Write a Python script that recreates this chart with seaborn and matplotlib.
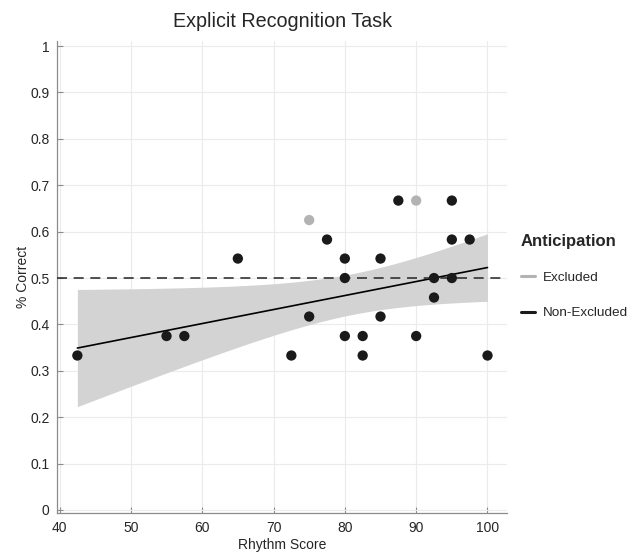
import matplotlib

matplotlib.use("Agg")
import matplotlib.pyplot as plt
import numpy as np
import pandas as pd
import seaborn as sns
from matplotlib.lines import Line2D

# values
groups = ["Excluded", "Non-Excluded"]
excluded_rhythm = [75, 90]
excluded_correct = [0.625, 0.667]
kept_rhythm = [42.5, 55, 57.5, 65, 72.5, 75, 77.5, 80, 80, 80, 82.5, 82.5,
               85, 85, 87.5, 90, 92.5, 92.5, 95, 95, 95, 97.5, 100]
kept_correct = [0.333, 0.375, 0.375, 0.542, 0.333, 0.417, 0.583, 0.542, 0.5, 0.375, 0.375, 0.333,
                0.542, 0.417, 0.667, 0.375, 0.5, 0.458, 0.667, 0.583, 0.5, 0.583, 0.333]
x_ticks = [40, 50, 60, 70, 80, 90, 100]
y_ticks = [0, 0.1, 0.2, 0.3, 0.4, 0.5, 0.6, 0.7, 0.8, 0.9, 1]
chance = 0.5

df = pd.DataFrame({
    "rhythm": excluded_rhythm + kept_rhythm,
    "correct": excluded_correct + kept_correct,
    "group": [groups[0]] * len(excluded_rhythm) + [groups[1]] * len(kept_rhythm),
})
palette = {"Excluded": "#b3b3b3", "Non-Excluded": "#1a1a1a"}
text_col = "#262626"
axis_col = "#8c8c8c"

# analytic 95% confidence band of the linear fit (non-excluded only)
xk = np.array(kept_rhythm)
yk = np.array(kept_correct)
n = len(xk)
slope, intercept = np.polyfit(xk, yk, 1)
resid = yk - (slope * xk + intercept)
s_err = np.sqrt(np.sum(resid ** 2) / (n - 2))
sxx = np.sum((xk - xk.mean()) ** 2)
t_crit = 2.080  # t(0.975, df=21)
grid_x = np.linspace(xk.min(), xk.max(), 200)
half = t_crit * s_err * np.sqrt(1 / n + (grid_x - xk.mean()) ** 2 / sxx)
fit_y = slope * grid_x + intercept

sns.set_theme(style="white")
plt.rcParams["font.family"] = ["Liberation Sans", "DejaVu Sans"]

fig = plt.figure(figsize=(6.44, 5.54), dpi=100)
ax = fig.add_axes([0.088, 0.074, 0.700, 0.852])

ax.grid(True, color="#ebebeb", linewidth=0.8)
ax.set_axisbelow(True)

ax.fill_between(grid_x, fit_y - half, fit_y + half, color="#d3d3d3", linewidth=0, zorder=1)
sns.regplot(data=df[df["group"] == "Non-Excluded"], x="rhythm", y="correct", ax=ax,
            scatter=False, ci=None, color="black", line_kws={"linewidth": 1.2, "zorder": 2})

ax.axhline(chance, color="#333333", linestyle=(0, (6, 4)), linewidth=1.2, zorder=3)

sns.scatterplot(data=df, x="rhythm", y="correct", hue="group", palette=palette,
                s=55, edgecolor="none", legend=False, ax=ax, zorder=4)

ax.set_xlim(39.6, 102.8)
ax.set_ylim(-0.0065, 1.011)
ax.set_xticks(x_ticks)
ax.set_yticks(y_ticks)
ax.set_yticklabels([f"{v:g}" for v in y_ticks])
ax.tick_params(direction="in", length=4, width=0.8, color=axis_col, labelsize=10,
               labelcolor=text_col, bottom=True, left=True)
ax.tick_params(axis="x", pad=6)
ax.tick_params(axis="y", pad=5)
for side in ["top", "right"]:
    ax.spines[side].set_visible(False)
for side in ["left", "bottom"]:
    ax.spines[side].set_color(axis_col)
    ax.spines[side].set_linewidth(0.9)

ax.set_xlabel("Rhythm Score", fontsize=10, color=text_col, labelpad=2)
ax.set_ylabel("% Correct", fontsize=10, color=text_col, labelpad=0)
ax.set_title("Explicit Recognition Task", fontsize=14.2, color=text_col, pad=10)

handles = [Line2D([0], [0], color=palette[g], linewidth=2.2) for g in groups]
leg = fig.legend(handles, groups, title="Anticipation", loc="upper left",
                 bbox_to_anchor=(0.79, 0.60), frameon=False, fontsize=9.7,
                 handlelength=1.05, handletextpad=0.6, labelspacing=1.7,
                 alignment="left")
leg.get_title().set_fontsize(12)
leg.get_title().set_fontweight("bold")
leg.get_title().set_color(text_col)
for t in leg.get_texts():
    t.set_color(text_col)

fig.savefig("out.png", dpi=100)
